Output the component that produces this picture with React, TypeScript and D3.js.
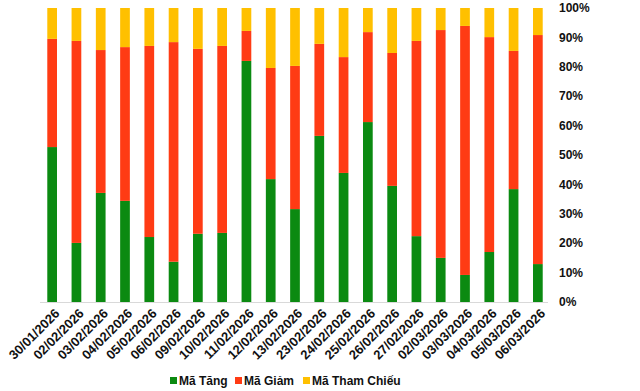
import React, { useEffect, useRef } from "react";
import * as d3 from "d3";

// ngày giao dịch
const dates = [
  "30/01/2026", "02/02/2026", "03/02/2026", "04/02/2026", "05/02/2026",
  "06/02/2026", "09/02/2026", "10/02/2026", "11/02/2026", "12/02/2026",
  "13/02/2026", "23/02/2026", "24/02/2026", "25/02/2026", "26/02/2026",
  "27/02/2026", "02/03/2026", "03/03/2026", "04/03/2026", "05/03/2026",
  "06/03/2026",
];

// tỷ trọng (%) từng nhóm
const maTang = [
  52.7, 20.1, 37.1, 34.4, 22.1, 13.7, 23.2, 23.5, 82.0, 41.8, 31.6,
  56.5, 43.9, 61.2, 39.5, 22.4, 15.0, 9.2, 17.0, 38.4, 12.9,
];
const maGiam = [
  36.8, 68.7, 48.6, 52.3, 65.0, 74.7, 62.9, 63.6, 10.2, 37.8, 48.7,
  31.3, 39.4, 30.6, 45.2, 66.4, 77.5, 84.7, 73.1, 47.0, 77.9,
];
const maThamChieu = [
  10.5, 11.2, 14.3, 13.3, 12.9, 11.6, 13.9, 12.9, 7.8, 20.4, 19.7,
  12.2, 16.7, 8.2, 15.3, 11.2, 7.5, 6.1, 9.9, 14.6, 9.2,
];

const seriesNames = ["Mã Tăng", "Mã Giảm", "Mã Tham Chiếu"];
const colors = ["#0B8A11", "#FF3B14", "#FFC000"];
const yTicks = [0, 10, 20, 30, 40, 50, 60, 70, 80, 90, 100];

const App = () => {
  const svgRef = useRef(null);

  useEffect(() => {
    const svg = d3.select(svgRef.current);
    svg.selectAll("*").remove();

    const left = 40;
    const right = 550;
    const top = 8;
    const bottom = 302;
    const font = "Liberation Sans, Arial, sans-serif";

    const rows = dates.map((d, i) => ({
      date: d,
      tang: maTang[i],
      giam: maGiam[i],
      tc: maThamChieu[i],
    }));

    const stack = d3.stack().keys(["tang", "giam", "tc"]).offset(d3.stackOffsetExpand);
    const layers = stack(rows);

    const x = d3.scaleBand().domain(dates).range([left, right]).paddingInner(0.6).paddingOuter(0.3);
    const y = d3.scaleLinear().domain([0, 1]).range([bottom, top]);

    layers.forEach((layer, k) => {
      svg
        .append("g")
        .selectAll("rect")
        .data(layer)
        .enter()
        .append("rect")
        .attr("x", (d) => x(d.data.date))
        .attr("y", (d) => y(d[1]))
        .attr("width", x.bandwidth())
        .attr("height", (d) => y(d[0]) - y(d[1]))
        .attr("fill", colors[k]);
    });

    // trục hoành
    svg
      .append("line")
      .attr("x1", left)
      .attr("x2", right - 2)
      .attr("y1", bottom + 0.5)
      .attr("y2", bottom + 0.5)
      .attr("stroke", "#d9d9d9")
      .attr("stroke-width", 1);

    // nhãn trục phải
    svg
      .append("g")
      .selectAll("text")
      .data(yTicks)
      .enter()
      .append("text")
      .attr("x", 559)
      .attr("y", (d) => y(d / 100))
      .attr("dy", "0.35em")
      .attr("font-family", font)
      .attr("font-size", "12px")
      .attr("font-weight", "bold")
      .attr("fill", "#111")
      .text((d) => `${d}%`);

    // nhãn ngày
    svg
      .append("g")
      .selectAll("text")
      .data(dates)
      .enter()
      .append("text")
      .attr(
        "transform",
        (d) => `translate(${x(d) + x.bandwidth() / 2 + 5},${bottom + 9}) rotate(-45)`
      )
      .attr("text-anchor", "end")
      .attr("dy", "0.35em")
      .attr("font-family", font)
      .attr("font-size", "13px")
      .attr("font-weight", "bold")
      .attr("fill", "#111")
      .text((d) => d);

    // chú thích
    const legendX = [170, 235, 303];
    const legend = svg.append("g");
    seriesNames.forEach((name, i) => {
      legend
        .append("rect")
        .attr("x", legendX[i])
        .attr("y", 377)
        .attr("width", 7)
        .attr("height", 7)
        .attr("fill", colors[i]);
      legend
        .append("text")
        .attr("x", legendX[i] + 9)
        .attr("y", 385)
        .attr("font-family", font)
        .attr("font-size", "12px")
        .attr("font-weight", "bold")
        .attr("fill", "#111")
        .text(name);
    });
  }, []);

  return (
    <svg
      ref={svgRef}
      width={640}
      height={391}
      style={{ position: "absolute", left: 0, top: 0, background: "#fff" }}
    ></svg>
  );
};

export default App;
